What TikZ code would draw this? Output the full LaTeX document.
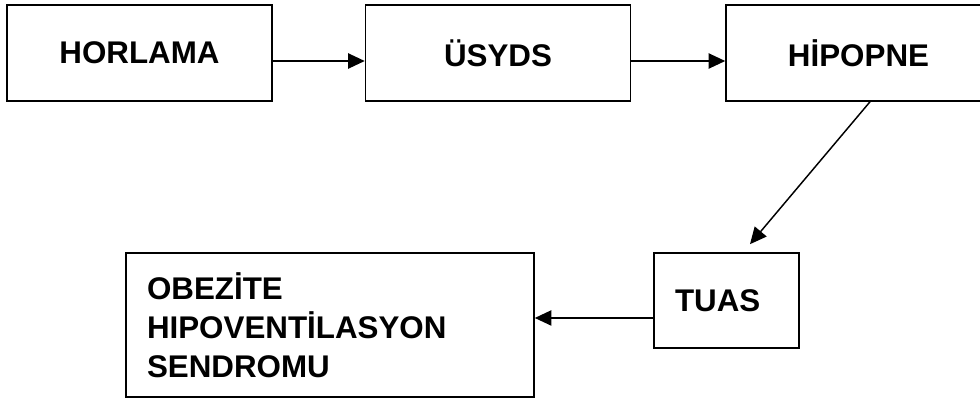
\documentclass[tikz,border=0pt]{standalone}
\usepackage{fontspec}
\setmainfont{Liberation Sans}
\usetikzlibrary{arrows.meta}
\usetikzlibrary{positioning}

\begin{document}
\begin{tikzpicture}[x=0.75pt,y=-0.75pt,
  box/.style={draw,line width=1.2pt,font=\bfseries\fontsize{23.5}{29.25}\selectfont},
  wide/.style={box,minimum width=198.75pt,minimum height=72pt},
  leftbox/.style={box,align=left,inner xsep=15.75pt},
  flow/.style={-{Triangle[length=12.5pt,width=11.5pt]},line width=1.1pt}]
  \useasboundingbox (0,0) rectangle (980,401);
  % top row
  \node[wide] (horlama) at (139.5,53) {HORLAMA};
  \node[wide] (usyds) at (498,53) {ÜSYDS};
  \node[wide] (hipopne) at (858.5,53) {HİPOPNE};
  % bottom row
  \node[leftbox,text width=77.25pt,minimum height=71.25pt] (tuas) at (726.5,300.5) {TUAS};
  \node[leftbox,text width=274.5pt,minimum height=108pt] (obezite) at (330,325)
    {OBEZİTE\\HIPOVENTİLASYON\\SENDROMU};

  \draw[flow] ([yshift=-6pt]horlama.east) -- ([yshift=-6pt]usyds.west);
  \draw[flow] ([yshift=-6pt]usyds.east) -- ([yshift=-6pt]hipopne.west);
  \draw[flow] ([xshift=8.6pt]hipopne.south) -- ([xshift=17.6pt,yshift=6pt]tuas.north);
  \coordinate (tuasin) at ([yshift=-13.1pt]tuas.west);
  \draw[flow] (tuasin) -- (tuasin -| obezite.east);
\end{tikzpicture}
\end{document}
